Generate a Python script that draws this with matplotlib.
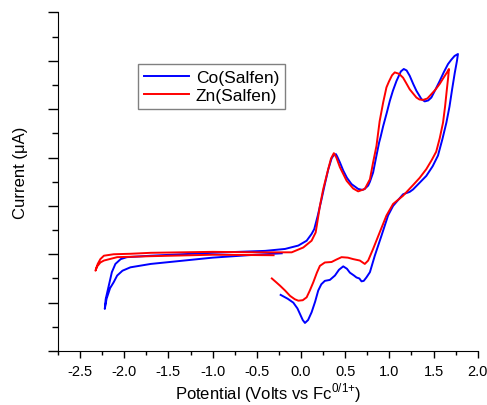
import matplotlib.pyplot as plt
from matplotlib.ticker import MultipleLocator, NullFormatter

plt.rcParams['font.family'] = ['Liberation Sans', 'DejaVu Sans']
plt.rcParams['mathtext.fontset'] = 'custom'
plt.rcParams['mathtext.rm'] = 'Liberation Sans'
plt.rcParams['axes.unicode_minus'] = False

# Co(Salfen) cyclic voltammogram, current in arbitrary units (y-axis unlabeled)
co_v = [-0.23, -0.15, -0.087, -0.04, -0.01, 0.02, 0.045, 0.08, 0.12, 0.16, 0.195,
        0.23, 0.27, 0.327, 0.384, 0.43, 0.478, 0.52, 0.553, 0.6, 0.628, 0.66,
        0.685, 0.71, 0.74, 0.78, 0.835, 0.91, 0.985, 1.042, 1.155, 1.23, 1.268,
        1.343, 1.418, 1.49, 1.55, 1.60, 1.645, 1.68, 1.71, 1.74, 1.765, 1.776,
        1.738, 1.70, 1.663, 1.615, 1.569, 1.52, 1.475, 1.44, 1.40, 1.362, 1.306,
        1.27, 1.23, 1.195, 1.163, 1.13, 1.08, 1.04, 1.005, 0.97, 0.93, 0.90,
        0.884, 0.854, 0.816, 0.78, 0.76, 0.72, 0.696, 0.647, 0.572, 0.52, 0.478,
        0.44, 0.41, 0.395, 0.37, 0.346, 0.308, 0.27, 0.233, 0.19, 0.15, 0.12,
        0.064, -0.03, -0.18, -0.406, -1.0, -1.70, -1.97, -2.04, -2.10, -2.14,
        -2.175, -2.21, -2.22,
        -2.20, -2.16, -2.12, -2.08, -2.02, -1.93, -1.70, -1.0, -0.6, -0.218]
co_i = [1.16, 1.08, 1.0, 0.88, 0.76, 0.64, 0.58, 0.64, 0.80, 1.02, 1.25,
        1.38, 1.45, 1.47, 1.56, 1.68, 1.75, 1.70, 1.62, 1.56, 1.52, 1.50,
        1.44, 1.45, 1.52, 1.63, 1.97, 2.38, 2.80, 3.0, 3.24, 3.29, 3.34,
        3.48, 3.62, 3.82, 4.04, 4.38, 4.72, 5.05, 5.41, 5.75, 6.0, 6.14,
        6.10, 6.02, 5.93, 5.76, 5.58, 5.40, 5.24, 5.18, 5.16, 5.21, 5.38,
        5.52, 5.69, 5.80, 5.83, 5.78, 5.58, 5.38, 5.17, 4.92, 4.65, 4.42,
        4.31, 4.04, 3.69, 3.50, 3.42, 3.35, 3.33, 3.35, 3.45, 3.58, 3.73,
        3.90, 4.02, 4.07, 4.05, 3.98, 3.75, 3.45, 3.14, 2.80, 2.52, 2.42,
        2.28, 2.18, 2.11, 2.07, 2.03, 1.97, 1.94, 1.90, 1.80, 1.63,
        1.35, 1.07, 0.87,
        1.08, 1.30, 1.42, 1.56, 1.66, 1.73, 1.80, 1.93, 1.98, 2.02]

# Zn(Salfen)
zn_v = [-0.33, -0.28, -0.237, -0.18, -0.124, -0.07, -0.03, 0.02, 0.064, 0.10, 0.139,
        0.18, 0.214, 0.27, 0.346, 0.40, 0.459, 0.53, 0.59, 0.666, 0.722, 0.76,
        0.816, 0.89, 0.967, 1.042, 1.155, 1.268, 1.343, 1.418, 1.48, 1.53, 1.57,
        1.607, 1.63, 1.65, 1.665, 1.674,
        1.652, 1.61, 1.569, 1.52, 1.475, 1.43, 1.38, 1.34, 1.306, 1.27, 1.23,
        1.19, 1.155, 1.11, 1.061, 1.03, 0.995, 0.967, 0.93, 0.89, 0.854, 0.816,
        0.78, 0.722, 0.647, 0.59, 0.516, 0.44, 0.40, 0.372, 0.34, 0.308, 0.252,
        0.214, 0.19, 0.166, 0.12, 0.026, -0.105, -0.5, -1.0, -1.7, -1.93, -2.12,
        -2.23, -2.27, -2.30, -2.325,
        -2.31, -2.27, -2.23, -2.08, -1.70, -1.0, -0.31]
zn_i = [1.50, 1.42, 1.35, 1.25, 1.14, 1.07, 1.04, 1.05, 1.11, 1.25, 1.42,
        1.62, 1.76, 1.83, 1.84, 1.89, 1.94, 1.93, 1.90, 1.87, 1.80, 1.87,
        2.11, 2.45, 2.80, 3.04, 3.21, 3.43, 3.58, 3.76, 3.95, 4.12, 4.40,
        4.72, 5.05, 5.40, 5.65, 5.83,
        5.76, 5.64, 5.52, 5.40, 5.31, 5.22, 5.19, 5.20, 5.24, 5.32, 5.41,
        5.54, 5.65, 5.73, 5.76, 5.70, 5.57, 5.45, 5.14, 4.75, 4.24, 3.90,
        3.55, 3.35, 3.30, 3.36, 3.52, 3.80, 4.0, 4.09, 3.98, 3.76, 3.35,
        3.0, 2.72, 2.45, 2.28, 2.14, 2.04, 2.04, 2.05, 2.03, 2.01, 2.0,
        1.97, 1.90, 1.80, 1.66,
        1.74, 1.83, 1.87, 1.94, 1.96, 1.99, 1.98]

fig = plt.figure(figsize=(4.87, 4.06), dpi=100)
ax = fig.add_axes([0.119, 0.133, 0.862, 0.834])

ax.plot(co_v, co_i, color='#0000ff', lw=1.4, label='Co(Salfen)')
ax.plot(zn_v, zn_i, color='#ff0000', lw=1.4, label='Zn(Salfen)')

ax.set_xlim(-2.75, 2.0)
ax.set_ylim(0, 7)
ax.xaxis.set_major_locator(MultipleLocator(0.5))
ax.xaxis.set_minor_locator(MultipleLocator(0.25))
ax.yaxis.set_major_locator(MultipleLocator(1))
ax.yaxis.set_minor_locator(MultipleLocator(0.5))
ax.yaxis.set_major_formatter(NullFormatter())
ax.spines['top'].set_visible(False)
ax.spines['right'].set_visible(False)
ax.tick_params(axis='x', which='major', length=5, width=1, labelsize=10.5, pad=4)
ax.tick_params(axis='x', which='minor', length=3, width=1)
ax.tick_params(axis='y', which='major', length=7, width=1)
ax.tick_params(axis='y', which='minor', length=4, width=1)

ax.set_xlabel('Potential (Volts vs Fc$^{0/1{+}}$)', fontsize=12, labelpad=2)
ax.set_ylabel('Current (\u03bcA)', fontsize=12)
ax.yaxis.set_label_coords(-0.072, 0.53)

leg = ax.legend(loc='upper left', bbox_to_anchor=(0.19, 0.847), borderaxespad=0,
                fontsize=12.5, fancybox=False, framealpha=1, handlelength=2.6,
                handletextpad=0.4, labelspacing=0.15, borderpad=0.35)
leg.get_frame().set_edgecolor('#808080')
leg.get_frame().set_linewidth(1.0)

fig.savefig('out.png', dpi=100)
